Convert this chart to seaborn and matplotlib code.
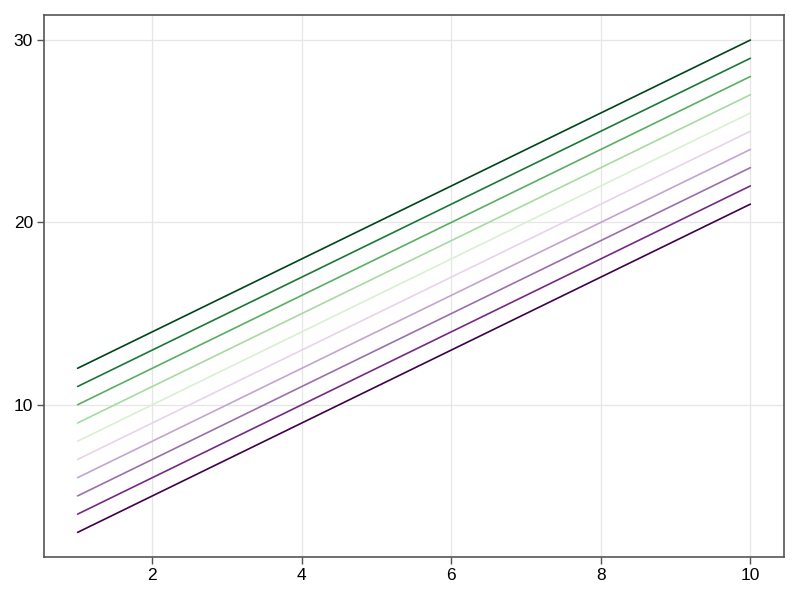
import numpy as np
import matplotlib
matplotlib.use("Agg")
import matplotlib.pyplot as plt
import seaborn as sns

# data: ten parallel lines y = 2x + k
x = [1, 2, 3, 4, 5, 6, 7, 8, 9, 10]
offsets = [1, 2, 3, 4, 5, 6, 7, 8, 9, 10]

sns.set_style("white")
plt.rcParams['font.family'] = ['Liberation Sans', 'DejaVu Sans']

fig = plt.figure(figsize=(8, 6), dpi=100)
ax = fig.add_axes([0.055, 0.0717, 0.925, 0.9026])

# ColorBrewer PRGn, 10 classes
colors = sns.color_palette(["#40004b", "#762a83", "#9970ab", "#c2a5cf", "#e7d4e8",
                            "#d9f0d3", "#a6dba0", "#5aae61", "#1b7837", "#00441b"])
for k, c in zip(offsets, colors):
    y = [2 * xi + k for xi in x]
    sns.lineplot(x=x, y=y, color=c, linewidth=1.2, ax=ax)

ax.set_xlim(0.55, 10.45)
ax.set_ylim(1.65, 31.35)
ax.set_xticks([2, 4, 6, 8, 10])
ax.set_yticks([10, 20, 30])
ax.grid(True, color="#e6e6e6", linewidth=0.9)
ax.set_axisbelow(True)
for s in ax.spines.values():
    s.set_color("#555555")
    s.set_linewidth(1.2)
ax.tick_params(axis="both", direction="out", length=5, width=1, color="#555555",
               labelsize=12.5, labelcolor="black", pad=3, bottom=True, left=True)

fig.savefig("out.png", dpi=100)
